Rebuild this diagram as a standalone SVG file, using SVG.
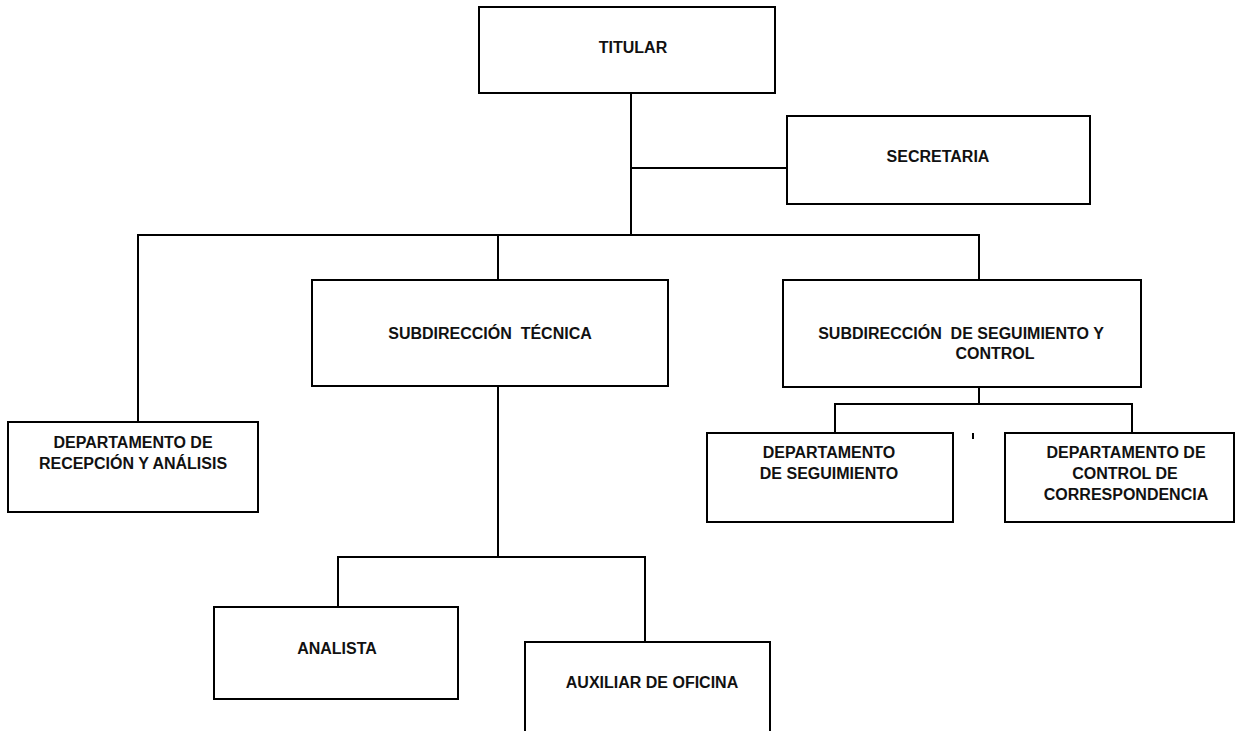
<svg xmlns="http://www.w3.org/2000/svg" width="1239" height="731" viewBox="0 0 1239 731">
<style>
.box{fill:#fff;stroke:#000;stroke-width:2}
.ln{fill:none;stroke:#000;stroke-width:2}
text{font-family:"Liberation Sans",Arial,sans-serif;font-weight:bold;font-size:16px;fill:#111;text-anchor:middle}
</style>
<rect width="1239" height="731" fill="#fff"/>
<g id="connectors" class="ln">
<path d="M631 93V235"/>
<path d="M631 168H787"/>
<path d="M138 421V235H979V280"/>
<path d="M498 235V280"/>
<path d="M498 386V557"/>
<path d="M338 607V557H645V642"/>
<path d="M979 387V404"/>
<path d="M835 433V404H1132V433"/>
<path d="M973 433V439"/>
</g>
<g id="titular"><rect class="box" x="479" y="7" width="296" height="86"/><text x="633" y="53">TITULAR</text></g>
<g id="secretaria"><rect class="box" x="787" y="116" width="303" height="88"/><text x="938" y="162">SECRETARIA</text></g>
<g id="subdireccion-tecnica"><rect class="box" x="312" y="280" width="356" height="106"/><text x="490" y="339" xml:space="preserve">SUBDIRECCIÓN  TÉCNICA</text></g>
<g id="subdireccion-seguimiento"><rect class="box" x="783" y="280" width="358" height="107"/><text x="961" y="339" xml:space="preserve">SUBDIRECCIÓN  DE SEGUIMIENTO Y</text><text x="995" y="359">CONTROL</text></g>
<g id="depto-recepcion"><rect class="box" x="8" y="422" width="250" height="90"/><text x="133" y="448">DEPARTAMENTO DE</text><text x="133" y="469">RECEPCIÓN Y ANÁLISIS</text></g>
<g id="depto-seguimiento"><rect class="box" x="707" y="433" width="246" height="89"/><text x="829" y="458">DEPARTAMENTO</text><text x="829" y="479">DE SEGUIMIENTO</text></g>
<g id="depto-control"><rect class="box" x="1005" y="433" width="229" height="89"/><text x="1126" y="458">DEPARTAMENTO DE</text><text x="1125" y="479">CONTROL DE</text><text x="1126" y="500">CORRESPONDENCIA</text></g>
<g id="analista"><rect class="box" x="214" y="607" width="244" height="92"/><text x="337" y="654">ANALISTA</text></g>
<g id="auxiliar"><rect class="box" x="525" y="642" width="245" height="100"/><text x="652" y="688">AUXILIAR DE OFICINA</text></g>
</svg>
